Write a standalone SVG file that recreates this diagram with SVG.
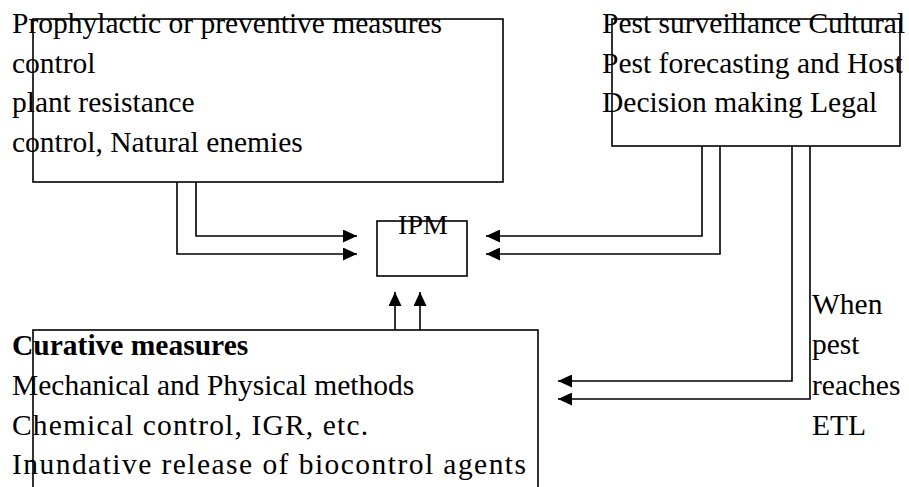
<svg xmlns="http://www.w3.org/2000/svg" width="909" height="487" viewBox="0 0 909 487">
<style>
.box{fill:none;stroke:#000;stroke-width:1.6}
text{font-family:'Liberation Serif','Times New Roman',Times,serif;font-size:29.5px;fill:#000}
.b{font-weight:bold}
.c{fill:none;stroke:#000;stroke-width:1.6}
</style>
<defs>
<marker id="ah" markerUnits="userSpaceOnUse" markerWidth="15" markerHeight="13" refX="14" refY="6.5" orient="auto">
<path d="M0,0 L14,6.5 L0,13 z" fill="#000"/>
</marker>
</defs>
<rect width="909" height="487" fill="#fff"/>
<g id="preventive" font-family="Liberation Serif, serif">
<text x="12" y="33">Prophylactic or preventive measures</text>
<text x="12" y="73">control</text>
<text x="12" y="112">plant resistance</text>
<text x="12" y="152">control, Natural enemies</text>
<rect class="box" x="33" y="19" width="470" height="163"/>
</g>
<g id="surveillance" font-family="Liberation Serif, serif">
<text x="602" y="33">Pest surveillance Cultural</text>
<text x="602" y="73">Pest forecasting and Host</text>
<text x="602" y="112">Decision making Legal</text>
<rect class="box" x="612" y="19" width="288" height="127"/>
</g>
<g id="ipm" font-family="Liberation Serif, serif">
<text x="423" y="234" text-anchor="middle" style="font-size:28px">IPM</text>
<rect class="box" x="377" y="221" width="90" height="55"/>
</g>
<g id="curative" font-family="Liberation Serif, serif">
<text class="b" x="12" y="355">Curative measures</text>
<text x="12" y="395">Mechanical and Physical methods</text>
<text x="12" y="435" textLength="356" lengthAdjust="spacing">Chemical control, IGR, etc.</text>
<text x="12" y="474" textLength="514" lengthAdjust="spacing">Inundative release of biocontrol agents</text>
<rect class="box" x="33" y="330" width="505" height="180"/>
</g>
<g id="etl-label" font-family="Liberation Serif, serif">
<text x="812" y="314">When</text>
<text x="812" y="354">pest</text>
<text x="812" y="395">reaches</text>
<text x="812" y="435">ETL</text>
</g>
<g id="connectors">
<polyline class="c" points="177,182 177,254 357,254" marker-end="url(#ah)"/>
<polyline class="c" points="196,182 196,236 357,236" marker-end="url(#ah)"/>
<polyline class="c" points="702,146 702,236 486,236" marker-end="url(#ah)"/>
<polyline class="c" points="720,146 720,254 486,254" marker-end="url(#ah)"/>
<polyline class="c" points="792,146 792,381 558,381" marker-end="url(#ah)"/>
<polyline class="c" points="810,146 810,399 558,399" marker-end="url(#ah)"/>
<line class="c" x1="395" y1="330" x2="395" y2="292" marker-end="url(#ah)"/>
<line class="c" x1="420" y1="330" x2="420" y2="292" marker-end="url(#ah)"/>
</g>
</svg>
